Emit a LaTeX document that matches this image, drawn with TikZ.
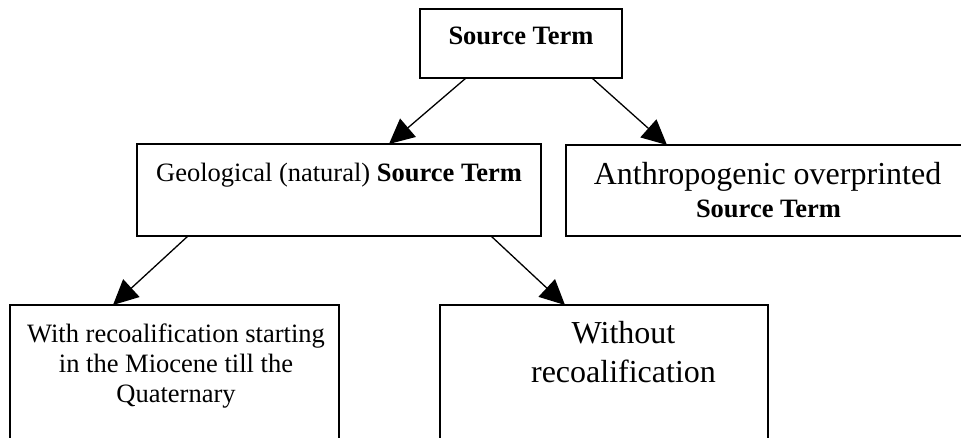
\documentclass[tikz,border=0pt]{standalone}
\usepackage{fontspec}
\setmainfont{Liberation Serif}
\usetikzlibrary{arrows.meta}
\begin{document}
\begin{tikzpicture}[x=1pt,y=-1pt,
  box/.style={draw, line width=1.8pt, rectangle, anchor=north west, inner sep=0pt, outer sep=0pt},
  conn/.style={line width=1.3pt, -{Triangle[length=25pt,width=24pt]}},
  small/.style={font=\fontsize{26.5}{30}\selectfont, anchor=base, inner sep=0pt},
  big/.style={font=\fontsize{32}{37}\selectfont, anchor=base, inner sep=0pt}]
\useasboundingbox (0,0) rectangle (961,438);
\clip (0,0) rectangle (961,438);
% boxes
\node[box, minimum width=202pt, minimum height=69pt] (src) at (420,9) {};
\node[box, minimum width=404pt, minimum height=92pt] (geo) at (137,144) {};
\node[box, minimum width=420pt, minimum height=91pt] (anth) at (566,145) {};
\node[box, minimum width=329pt, minimum height=160pt] (ll) at (10,305) {};
\node[box, minimum width=328pt, minimum height=160pt] (lr) at (440,305) {};
% texts
\node[small] (srcT) at (521,45) {\textbf{Source Term}};
\node[small] (geoT) at (339,182) {Geological (natural) \textbf{Source Term}};
\node[big] (anthT1) at (767.5,185) {Anthropogenic overprinted};
\node[small] (anthT2) at (768.5,218) {\textbf{Source Term}};
\node[small] (llT1) at (176,342) {With recoalification starting};
\node[small] (llT2) at (176,372) {in the Miocene till the};
\node[small] (llT3) at (176,402) {Quaternary};
\node[big] (lrT1) at (623.5,343) {Without};
\node[big] (lrT2) at (623.5,382) {recoalification};
% connectors
\draw[conn] ([xshift=46pt]src.south west) -- ([xshift=252pt]geo.north west);
\draw[conn] ([xshift=172pt]src.south west) -- ([xshift=101pt]anth.north west);
\draw[conn] ([xshift=51pt]geo.south west) -- ([xshift=103pt]ll.north west);
\draw[conn] ([xshift=354pt]geo.south west) -- ([xshift=125pt]lr.north west);
\end{tikzpicture}
\end{document}
